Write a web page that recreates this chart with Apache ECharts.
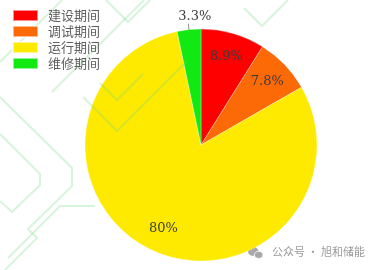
<!DOCTYPE html>
<html>
<head>
<meta charset="utf-8">
<script src="https://cdn.jsdelivr.net/npm/echarts@6/dist/echarts.min.js"></script>
<style>
  html, body { margin: 0; padding: 0; background: #ffffff; }
  #chart { width: 374px; height: 270px; }
</style>
</head>
<body>
<div id="chart"></div>
<script>
// Share of time spent in each project phase
const phases = ['建设期间', '调试期间', '运行期间', '维修期间'];
const shares = [8.9, 7.8, 80, 3.3];
const phaseColors = ['#fe0000', '#fb6a06', '#fdea00', '#12e812'];
const shareLabels = ['8.9%', '7.8%', '80%', '3.3%'];

// Faint circuit-style line pattern in the background
const tracePaths = [
  [[0, 97], [72, 168], [72, 186], [28, 229], [37, 238], [5, 270]],
  [[0, 134], [40, 174], [40, 185], [12, 212], [0, 201]],
  [[83, 97], [117, 131], [187, 61]],
  [[100, 83], [117, 100], [143, 74]],
  [[52, 92], [138, 6], [144, 0]],
  [[0, 62], [44, 18], [62, 0]],
  [[106, 0], [128, 22], [150, 0]],
  [[244, 8], [262, 26], [288, 0]],
  [[8, 258], [60, 206], [95, 206]]
];

const chart = echarts.init(document.getElementById('chart'), null, { renderer: 'canvas' });

const sliceData = phases.map((name, i) => ({
  name: name,
  value: shares[i],
  itemStyle: { color: phaseColors[i] }
}));

const labelData = phases.map((name, i) => {
  const item = { name: name, value: shares[i] };
  if (i === 3) {
    item.label = { position: 'outside' };
    item.labelLine = { show: true, length: 6, length2: 0 };
  }
  return item;
});

const CENTER = [201, 145];
const RADIUS = 116;

chart.setOption({
  backgroundColor: '#ffffff',
  animation: false,
  legend: {
    orient: 'vertical',
    left: 12,
    top: 9,
    padding: 0,
    icon: 'rect',
    itemWidth: 25,
    itemHeight: 11,
    itemGap: 3,
    selectedMode: false,
    data: phases.map((name, i) => ({ name: name, itemStyle: { color: phaseColors[i] } })),
    textStyle: {
      color: '#5e5e5e',
      fontSize: 13,
      fontFamily: '"Noto Sans CJK SC", sans-serif',
      padding: [0, 0, 0, 5]
    }
  },
  graphic: [
    ...tracePaths.map(pts => ({
      type: 'polyline',
      z: 3,
      silent: true,
      shape: { points: pts },
      style: { stroke: 'rgba(110, 215, 130, 0.28)', lineWidth: 2, fill: null }
    })),
    {
      type: 'group',
      left: 248,
      top: 247,
      z: 5,
      children: [
        { type: 'ellipse', shape: { cx: 5, cy: 5, rx: 5.2, ry: 4.4 }, style: { fill: '#a8a8a8' } },
        { type: 'ellipse', shape: { cx: 10.5, cy: 8.5, rx: 4.3, ry: 3.6 }, style: { fill: '#a8a8a8', stroke: '#ffffff', lineWidth: 0.8 } }
      ]
    },
    {
      type: 'text',
      left: 272,
      top: 246,
      z: 5,
      style: {
        text: '公众号 · 旭和储能',
        fill: '#9a9a9a',
        fontSize: 11,
        fontFamily: '"Noto Sans CJK SC", sans-serif'
      }
    }
  ],
  series: [
    {
      type: 'pie',
      center: CENTER,
      radius: RADIUS,
      startAngle: 90,
      clockwise: true,
      silent: true,
      label: { show: false },
      labelLine: { show: false },
      itemStyle: { borderColor: 'rgba(255,255,255,0.55)', borderWidth: 0.6 },
      data: sliceData
    },
    {
      // label carrier ring, so inner labels sit at about three quarters of the radius
      type: 'pie',
      center: CENTER,
      radius: [62, RADIUS],
      startAngle: 90,
      clockwise: true,
      silent: true,
      z: 4,
      itemStyle: { color: 'rgba(0,0,0,0)' },
      label: {
        show: true,
        position: 'inside',
        formatter: p => shareLabels[p.dataIndex],
        color: '#3a3a3a',
        fontSize: 13,
        fontFamily: '"DejaVu Serif", serif'
      },
      labelLine: { lineStyle: { color: '#777777', width: 0.8 } },
      labelLayout: p => (p.dataIndex === 3 ? { dx: 28, dy: -7 } : {}),
      data: labelData
    }
  ]
});
</script>
</body>
</html>
